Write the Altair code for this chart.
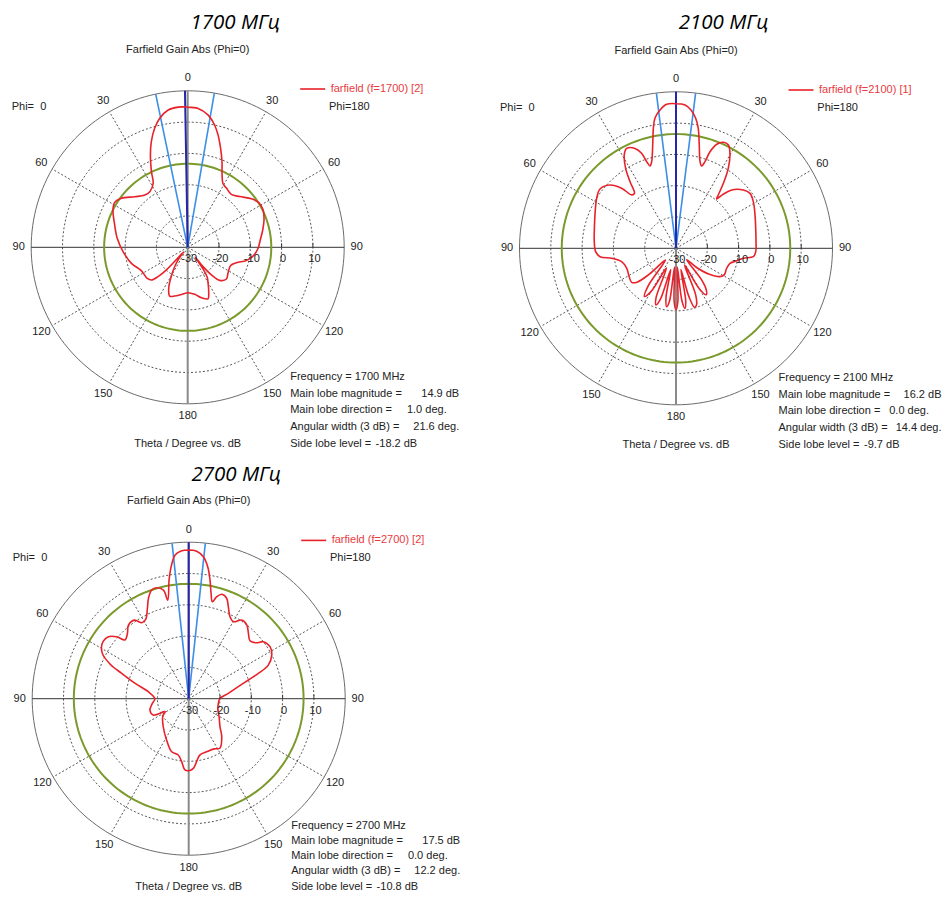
import numpy as np
import pandas as pd
import altair as alt

# ---------------- data ----------------
titles = ["1700 МГц", "2100 МГц", "2700 МГц"]
freqs = [1700, 2100, 2700]
run_ids = [2, 1, 2]
main_mag = [14.9, 16.2, 17.5]        # dB
main_dir = [1.0, 0.0, 0.0]           # deg (towards Phi=0 side)
ang_width = [21.6, 14.4, 12.2]       # deg, 3 dB
side_lobe = [-18.2, -9.7, -10.8]     # dB

# angle measured clockwise from the top of the plot (right half = Phi=180, left half = Phi=0)
ang_1700 = [0, 4.3, 8.7, 12.4, 15.1, 18.4, 21.8, 25.4, 28.9, 33.2, 39.5, 45.7, 52.8, 57.6, 63.6, 70.3, 77,
            84.2, 90.8, 97.2, 102.8, 107.5, 113, 122.8, 129.3, 135.9, 139, 141.5, 143, 145, 147, 150, 155.5,
            158.5, 164.8, 171.5, 179.6, 187.7, 195, 200.3, 204.9, 208.7, 213.9, 218, 221, 223.3, 225.3, 228,
            232.5, 243.3, 254.1, 266.2, 277.3, 287, 296.6, 301.6, 306.5, 313.7, 320.6, 325.7, 331.6, 334.4,
            338, 341, 344.5, 347.8, 351.9, 356.1, 360]
db_1700 = [14.8, 14.5, 12.8, 10.0, 7.2, 3.3, -0.5, -4.4, -6.7, -7.4, -8.1, -6.8, -4.4, -3.2, -3.1, -4.1, -5.4,
           -6.7, -7.5, -8.8, -10.8, -13.7, -15.1, -14.7, -14.0, -15.3, -18, -22, -26, -21, -18.5, -17.0, -13.8,
           -12.3, -13.3, -14.8, -15.5, -14.8, -13.9, -13.4, -15.6, -18.7, -22.5, -25.5, -28, -20.1, -16.7, -14.4,
           -13.7, -13.4, -11.3, -9.3, -7.3, -5.6, -3.3, -2.6, -3.65, -6.6, -8.4, -8.5, -6.8, -3.2,
           1.8, 5.7, 9.5, 12.2, 14.3, 14.9, 14.8]

ang_2100 = [0, 3.6, 6.2, 8.6, 10.5, 12.7, 15.5, 17.3, 18.5, 19.4, 21.4, 24.1, 26.9, 29.6, 33.2, 36.1, 38.4,
            39.5, 41, 43.7, 49.1, 53.4, 58.9, 67.1, 75.9, 85.2, 92.4, 96.2, 98.4, 102.7, 105.5, 111.5, 118.9,
            122.8, 128, 133, 137, 141, 144, 147, 150, 153, 157, 160, 162.5, 165, 167, 169.5, 171.5, 173.5, 176,
            178, 180, 182, 184.5, 187, 189, 191.5, 194, 197, 199.4, 202, 206, 210, 213.2, 216.5, 222, 226, 229,
            232.5, 238.9, 248, 256.2, 261.2, 263.7, 267.6, 274.7, 283.8, 292.4, 302.2, 308, 313.8, 317.8, 320.3,
            322.9, 325.4, 327.8, 331, 333.7, 337.7, 340.1, 341.3, 342.5, 344.3, 347.3, 349.3, 350.8, 353.4,
            356.3, 360]
db_2100 = [16.2, 15.9, 14.45, 12.0, 9.0, 3.8, -1.25, -2.45, -0.8, 2.7, 5.7, 7.1, 7.0, 4.9, 0.5, -4.3, -8.25,
           -9.6, -7.3, -4.2, -1.55, -0.55, -1.15, -2.6, -3.75, -4.35, -4.5, -5.15, -8.25, -10.7, -12.1, -12.6,
           -12.4, -13.3, -16.5, -21, -25, -17, -13.5, -12.3, -15, -24, -14, -10.8, -10.2, -14, -23, -13, -10.6,
           -13, -24, -13, -10.3, -13, -24, -13, -11.1, -14, -23, -13, -10.8, -13, -23, -14, -11.6, -15, -25,
           -18, -13.5, -12.15, -12.5, -13.0, -12.1, -9.2, -5.6, -4.3, -3.8, -3.15, -2.0, -0.05, 0.8, -0.8,
           -4.1, -7.8, -8.0, -4.1, 0.2, 4.1, 5.6, 4.5, 2.3, -0.8, -2.4, -1.25, 3.85, 9.0, 12.1, 14.5, 16.1,
           16.2]

ang_2700 = [0, 3.1, 5.9, 8.2, 10.2, 12, 13.7, 15.4, 17.6, 20.7, 23.3, 26.7, 30.1, 34, 38.2, 42.4, 46.6, 50.5,
            52.6, 57.4, 62.2, 67.1, 70, 72.6, 76.4, 82.3, 89.4, 98.9, 108.4, 120.7, 131.8, 139, 147.8, 153,
            161.2, 168.6, 176.2, 180, 183, 186.3, 190.5, 197.8, 208, 222.2, 236, 241.3, 245.3, 253.7, 262, 270,
            279.8, 285.9, 290.7, 293.8, 297.7, 302.7, 307.7, 310.7, 312.7, 316.8, 320.7, 325.4, 328.3, 331.5,
            335.4, 338.1, 341.2, 343.9, 346.9, 348, 350.6, 352.4, 354.6, 357.3, 360]
db_2700 = [17.5, 17.2, 15.6, 12.6, 8.5, 4.4, 1.9, 3.8, 5.0, 4.3, 2.0, -0.66, -1.56, 0.3, 0.0, -1.7, -3.05,
           -1.9, 0.0, 0.84, 0.0, -2.4, -6.3, -10.0, -13.7, -17.2, -20, -20.4, -20.2, -18.7, -16.6, -13.9,
           -11.3, -12.0, -12.1, -11.7, -7.7, -7.0, -7.2, -9.7, -11.7, -12.2, -15.0, -17.9, -20, -21.4, -17.5,
           -17.1, -18.2, -19.2, -16.9, -12.2, -7.1, -2.5, 1.15, 2.8, 2.4, 0.35, -2.3, -1.4, 0.4, 0.5, -1.5,
           -1.2, 1.7, 4.5, 6.7, 6.9, 5.6, 2.2, 8.4, 12.5, 16.1, 17.3, 17.5]

grid_levels = [-20, -10, 0, 10]
tick_labels = [-30, -20, -10, 0, 10]
angle_marks = [0, 30, 60, 90, 120, 150, 180, 210, 240, 270, 300, 330]
angle_texts = ["0", "30", "60", "90", "120", "150", "180", "150", "120", "90", "60", "30"]
spoke_angles = [30, 60, 120, 150, 210, 240, 300, 330]

# ---------------- layout ----------------
K = 3.13            # px per dB
RMIN, RMAX = -30.0, 20.0
OFF = -RMIN
CX = [187.7, 676.0, 188.7]
CY = [247.3, 248.3, 698.7]
FONT = "Liberation Sans"
W, H = 935, 885
# per-panel text block tweaks so nothing is clipped at the page edge
INFO_Y0 = [129.6, 129.6, 127.0]
INFO_DY = [16.7, 16.7, 15.2]
VAL_SHIFT = [0.0, -6.0, 0.0]
THETA_Y = [196.3, 196.3, 188.0]
TITLE_DY = [-224.0, -225.0, -224.0]

xsc = alt.Scale(domain=[8, 8 + W], nice=False, zero=False)
ysc = alt.Scale(domain=[8, 8 + H], nice=False, zero=False, reverse=True)
X = alt.X("px:Q", scale=xsc, axis=None)
Y = alt.Y("py:Q", scale=ysc, axis=None)


def frame(rows):
    df = pd.DataFrame(rows)
    df["cx"] = [CX[p] for p in df["p"]]
    df["cy"] = [CY[p] for p in df["p"]]
    return df


def pt(a, d):
    return {
        "px": f"datum.cx + {K}*(datum.{d} + {OFF})*sin(datum.{a}*PI/180)",
        "py": f"datum.cy - {K}*(datum.{d} + {OFF})*cos(datum.{a}*PI/180)",
    }


def seg_calc():
    c = pt("a1", "d1")
    c2 = pt("a2", "d2")
    c["px2"] = c2["px"]
    c["py2"] = c2["py"]
    return c


# pattern curves
pat_rows = []
for p, (A, D) in enumerate([(ang_1700, db_1700), (ang_2100, db_2100), (ang_2700, db_2700)]):
    for i, (a, d) in enumerate(zip(A, D)):
        pat_rows.append({"p": p, "i": i, "ang": a, "db": d})
pat = frame(pat_rows)

# rings
circ = np.arange(0, 361, 2)
def ring_frame(levels_per_panel):
    rows = []
    for p, levels in enumerate(levels_per_panel):
        for k, lv in enumerate(levels):
            for a in circ:
                rows.append({"p": p, "ring": f"{p}-{k}", "ang": float(a), "db": lv})
    return frame(rows)

grid_df = ring_frame([grid_levels] * 3)
outer_df = ring_frame([[RMAX]] * 3)
green_df = ring_frame([[m + s] for m, s in zip(main_mag, side_lobe)])

ring_enc = dict(x=X, y=Y, detail="ring:N", order="ang:Q")
grid_layer = alt.Chart(grid_df).mark_line(color="#555555", strokeWidth=1, strokeDash=[2, 2]).transform_calculate(**pt("ang", "db")).encode(**ring_enc)
outer_layer = alt.Chart(outer_df).mark_line(color="#6b6b6b", strokeWidth=1).transform_calculate(**pt("ang", "db")).encode(**ring_enc)
green_layer = alt.Chart(green_df).mark_line(color="#7a9a2c", strokeWidth=2).transform_calculate(**pt("ang", "db")).encode(**ring_enc)

seg_enc = dict(x=X, y=Y, x2="px2:Q", y2="py2:Q")

# spokes
spk = frame([{"p": p, "a1": a, "d1": RMIN, "a2": a, "d2": RMAX} for p in range(3) for a in spoke_angles])
spoke_layer = alt.Chart(spk).mark_rule(color="#555555", strokeWidth=1, strokeDash=[2, 2]).transform_calculate(**seg_calc()).encode(**seg_enc)

# axes
hax = frame([{"p": p, "a1": 270, "d1": RMAX, "a2": 90, "d2": RMAX} for p in range(3)])
vax = frame([{"p": p, "a1": 0, "d1": RMAX, "a2": 180, "d2": RMAX} for p in range(3)])
hax_layer = alt.Chart(hax).mark_rule(color="#333333", strokeWidth=1).transform_calculate(**seg_calc()).encode(**seg_enc)
vax_layer = alt.Chart(vax).mark_rule(color="#8a8a8a", strokeWidth=2).transform_calculate(**seg_calc()).encode(**seg_enc)

# beam lines
lb_rows, db_rows = [], []
for p in range(3):
    c = -main_dir[p]
    for s in (-1, 1):
        lb_rows.append({"p": p, "a1": c + s * ang_width[p] / 2, "d1": RMIN, "a2": c + s * ang_width[p] / 2, "d2": RMAX})
    db_rows.append({"p": p, "a1": c, "d1": RMIN, "a2": c, "d2": RMAX})
lblue_layer = alt.Chart(frame(lb_rows)).mark_rule(color="#3d8fe6", strokeWidth=1.6).transform_calculate(**seg_calc()).encode(**seg_enc)
dblue_layer = alt.Chart(frame(db_rows)).mark_rule(color="#2626a8", strokeWidth=2).transform_calculate(**seg_calc()).encode(**seg_enc)

# ticks on the radial axis
tk = frame([{"p": p, "a1": 90, "d1": lv, "a2": 90, "d2": lv} for p in range(3) for lv in grid_levels])
tc = seg_calc()
tc["py2"] = "datum.cy - 4"
tick_layer = alt.Chart(tk).mark_rule(color="#333333", strokeWidth=1).transform_calculate(**tc).encode(**seg_enc)

tl = frame([{"p": p, "ang": 90, "db": lv, "label": str(lv)} for p in range(3) for lv in tick_labels])
tlc = pt("ang", "db")
tlc["px"] = tlc["px"] + " + 1.5"
tlc["py"] = "datum.cy + 12"
ticklab_layer = alt.Chart(tl).mark_text(font=FONT, fontSize=11, color="#222222", align="center", baseline="middle").transform_calculate(**tlc).encode(x=X, y=Y, text="label:N")

# angle labels
al = frame([{"p": p, "ang": a, "label": t} for p in range(3) for a, t in zip(angle_marks, angle_texts)])
angle_layer = alt.Chart(al).mark_text(font=FONT, fontSize=11, color="#222222", align="center", baseline="middle").transform_calculate(
    px="datum.cx + 169*sin(datum.ang*PI/180)", py="datum.cy - 169*cos(datum.ang*PI/180)"
).encode(x=X, y=Y, text="label:N")

# pattern curve
curve_layer = alt.Chart(pat).mark_line(color="#e8222a", strokeWidth=1.6, interpolate="catmull-rom").transform_calculate(**pt("ang", "db")).encode(
    x=X, y=Y, detail="p:N", order="i:Q")

# legend lines
lg = frame([{"p": p} for p in range(3)])
legline_layer = alt.Chart(lg).mark_rule(color="#e8222a", strokeWidth=1.6).transform_calculate(
    px="datum.cx + 112.5", px2="datum.cx + 137.5", py="datum.cy - 158.3", py2="datum.cy - 158.3"
).encode(**seg_enc)

# texts
def text_rows(items):
    rows = []
    for p in range(3):
        for dx, dy, t in items(p):
            rows.append({"px": CX[p] + dx, "py": CY[p] + dy, "txt": t})
    return pd.DataFrame(rows)

def iy(p, k):
    return INFO_Y0[p] + k * INFO_DY[p]

title_df = text_rows(lambda p: [(47.5, TITLE_DY[p], titles[p])])
center_df = text_rows(lambda p: [(0, -197.3, "Farfield Gain Abs (Phi=0)"), (0, THETA_Y[p], "Theta / Degree vs. dB")])
left_df = text_rows(lambda p: [
    (-176, -140.6, "Phi=\u00a0\u00a00"),
    (141.3, -140.6, "Phi=180"),
    (102.5, iy(p, 0), f"Frequency = {freqs[p]} MHz"),
    (102.5, iy(p, 1), "Main lobe magnitude ="),
    (102.5, iy(p, 2), "Main lobe direction ="),
    (102.5, iy(p, 3), "Angular width (3 dB) ="),
    (102.5, iy(p, 4), "Side lobe level ="),
])
right_df = text_rows(lambda p: [
    (271.5 + VAL_SHIFT[p], iy(p, 1), f"{main_mag[p]:.1f} dB"),
    (259.0 + VAL_SHIFT[p], iy(p, 2), f"{main_dir[p]:.1f} deg."),
    (271.5 + VAL_SHIFT[p], iy(p, 3), f"{ang_width[p]:.1f} deg."),
    (229.5 + VAL_SHIFT[p], iy(p, 4), f"{side_lobe[p]:.1f} dB"),
])
leg_df = text_rows(lambda p: [(143, -158.3, f"farfield (f={freqs[p]}) [{run_ids[p]}]")])

txt_enc = dict(x=X, y=Y, text="txt:N")
title_layer = alt.Chart(title_df).mark_text(font="Open Sans", fontStyle="italic", fontSize=20.5, color="#000000", align="center", baseline="middle").encode(**txt_enc)
center_layer = alt.Chart(center_df).mark_text(font=FONT, fontSize=11, color="#222222", align="center", baseline="middle").encode(**txt_enc)
left_layer = alt.Chart(left_df).mark_text(font=FONT, fontSize=11, color="#222222", align="left", baseline="middle").encode(**txt_enc)
right_layer = alt.Chart(right_df).mark_text(font=FONT, fontSize=11, color="#222222", align="right", baseline="middle").encode(**txt_enc)
leg_layer = alt.Chart(leg_df).mark_text(font=FONT, fontSize=11, color="#e83a3e", align="left", baseline="middle").encode(**txt_enc)

chart = alt.layer(
    grid_layer, spoke_layer, outer_layer, hax_layer, vax_layer, green_layer,
    lblue_layer, dblue_layer, curve_layer, tick_layer, ticklab_layer, angle_layer,
    legline_layer, title_layer, center_layer, left_layer, right_layer, leg_layer,
).properties(
    width=W, height=H, autosize=alt.AutoSizeParams(type="none"), padding=0, background="white"
).configure_view(strokeWidth=0)

chart.save("out.html", embed_options={"renderer": "svg", "actions": False})
